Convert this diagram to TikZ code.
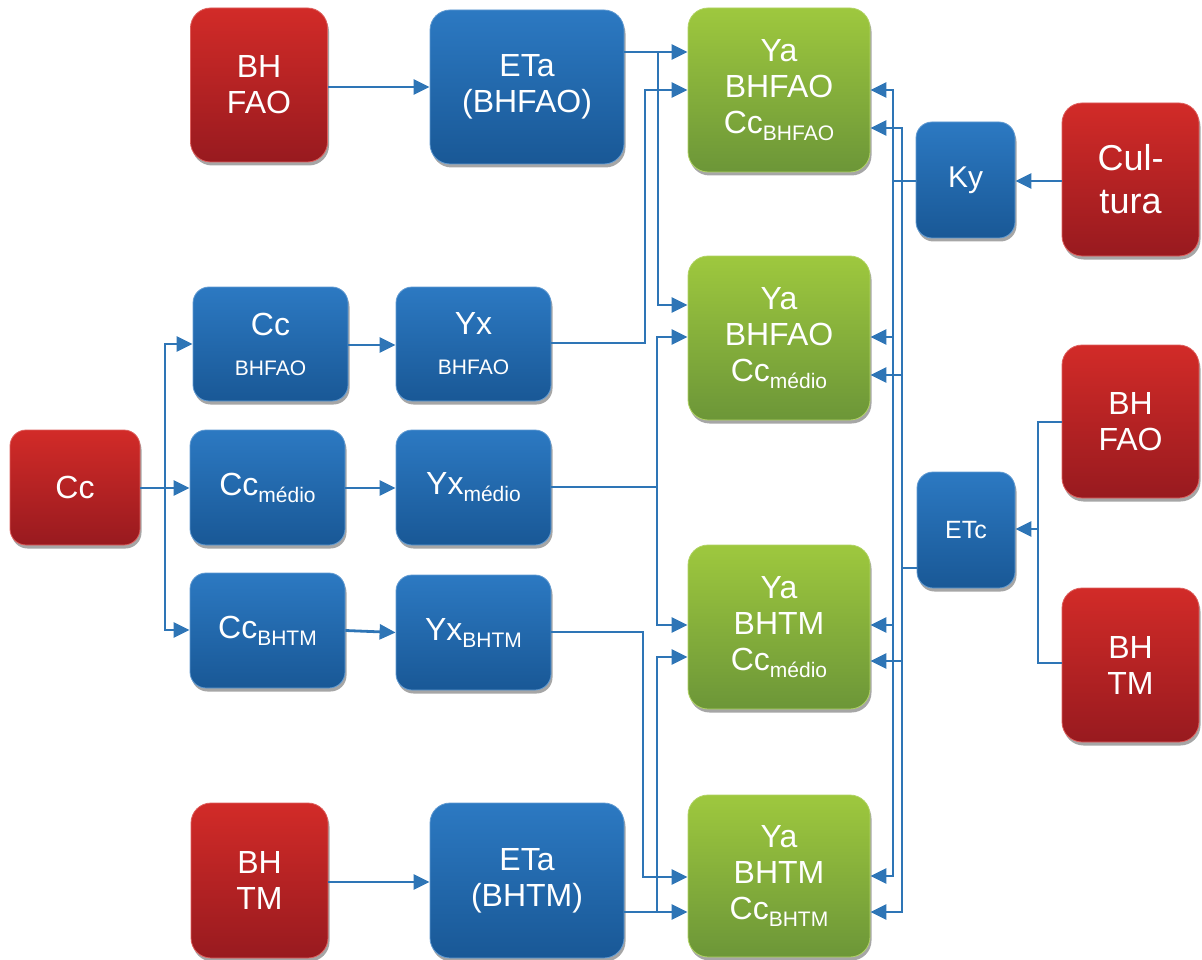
\documentclass[tikz,border=0pt]{standalone}
\usepackage{fontspec}
\setmainfont{Liberation Sans}
\usetikzlibrary{arrows.meta,shadows}

\definecolor{linecol}{RGB}{46,117,182}
\definecolor{redtop}{RGB}{210,43,40}
\definecolor{redbot}{RGB}{152,26,31}
\definecolor{bluetop}{RGB}{44,121,194}
\definecolor{bluebot}{RGB}{25,88,150}
\definecolor{greentop}{RGB}{158,200,62}
\definecolor{greenbot}{RGB}{108,150,56}

% lowered small text (subscript-like labels)
\newcommand{\lowtxt}[1]{\raisebox{-7pt}{\fontsize{21}{21}\selectfont #1}}

\tikzset{
  basebox/.style={rounded corners=20pt, inner sep=0pt, text=white, align=center,
    font=\fontsize{32}{36}\selectfont, line width=0.8pt,
    drop shadow={shadow xshift=1.5pt, shadow yshift=-3.5pt, fill=black, opacity=0.35}},
  redbox/.style={basebox, top color=redtop, bottom color=redbot, draw=redtop!75!white},
  bluebox/.style={basebox, top color=bluetop, bottom color=bluebot, draw=bluetop!75!white},
  greenbox/.style={basebox, top color=greentop, bottom color=greenbot, draw=greentop!80!white},
  smallbox/.style={rounded corners=16pt},
  conn/.style={draw=linecol, line width=2.8pt},
  arr/.style={conn, -{Triangle[length=16pt,width=15pt]}},
}

\begin{document}
\begin{tikzpicture}[x=1pt, y=-1pt]
\useasboundingbox (0,0) rectangle (1202,960);

% source boxes (red)
\node[redbox, minimum width=137pt, minimum height=154pt] (bhA) at (259,85) {BH\\FAO};
\node[redbox, minimum width=137pt, minimum height=155pt] (bhB) at (259.5,880.5) {BH\\TM};
\node[redbox, smallbox, minimum width=130pt, minimum height=115pt] (cc) at (75,487.5) {Cc};
\node[redbox, minimum width=137pt, minimum height=153pt, font=\fontsize{36}{43}\selectfont] (cult) at (1130.5,179.5) {Cul-\\tura};
\node[redbox, minimum width=137pt, minimum height=153pt] (bhR1) at (1130.5,421.5) {BH\\FAO};
\node[redbox, minimum width=137pt, minimum height=154pt] (bhR2) at (1130.5,665) {BH\\TM};

% intermediate boxes (blue)
\node[bluebox, minimum width=194pt, minimum height=154pt] (etaA) at (527,87) {ETa\\(BHFAO)};
\node[bluebox, minimum width=194pt, minimum height=155pt] (etaB) at (527,880.5) {ETa\\(BHTM)};
\node[bluebox, smallbox, minimum width=155pt, minimum height=114pt] (ccA) at (270.5,344)
  {Cc\\[4pt]{\fontsize{21}{25}\selectfont BHFAO}};
\node[bluebox, smallbox, minimum width=155pt, minimum height=114pt] (yxA) at (473.5,344)
  {Yx\\[4pt]{\fontsize{21}{25}\selectfont BHFAO}};
\node[bluebox, smallbox, minimum width=155pt, minimum height=115pt] (ccM) at (267.5,487.5) {Cc\lowtxt{médio}};
\node[bluebox, smallbox, minimum width=155pt, minimum height=115pt] (yxM) at (473.5,487.5) {Yx\lowtxt{médio}};
\node[bluebox, smallbox, minimum width=155pt, minimum height=115pt] (ccT) at (267.5,630.5) {Cc\lowtxt{BHTM}};
\node[bluebox, smallbox, minimum width=155pt, minimum height=115pt] (yxT) at (473.5,632.5) {Yx\lowtxt{BHTM}};
\node[bluebox, smallbox, minimum width=99pt, minimum height=116pt, font=\fontsize{30}{34}\selectfont] (ky) at (965.5,180) {Ky};
\node[bluebox, smallbox, minimum width=98pt, minimum height=116pt, font=\fontsize{25}{30}\selectfont] (etc) at (966,530) {ETc};

% result boxes (green)
\node[greenbox, minimum width=182pt, minimum height=164pt] (yaA) at (779,90) {Ya\\BHFAO\\Cc\lowtxt{BHFAO}};
\node[greenbox, minimum width=182pt, minimum height=164pt] (yaB) at (779,338) {Ya\\BHFAO\\Cc\lowtxt{médio}};
\node[greenbox, minimum width=182pt, minimum height=164pt] (yaC) at (779,627) {Ya\\BHTM\\Cc\lowtxt{médio}};
\node[greenbox, minimum width=182pt, minimum height=162pt] (yaD) at (779,876) {Ya\\BHTM\\Cc\lowtxt{BHTM}};

% junction points
\coordinate (jcc) at (165,488);
\coordinate (jm) at (657,487);
\coordinate (jt) at (657,912);
\coordinate (jky) at (893,181);
\coordinate (jetc) at (902,568);
\coordinate (jbh) at (1038,529);

% left branch: Cc to the three Cc variants
\draw[conn] (cc.east |- jcc) -- (jcc);
\draw[arr] (jcc) |- (ccA.west |- 0,344);
\draw[arr] (jcc) -- (ccM.west |- jcc);
\draw[arr] (jcc) |- (ccT.west |- 0,630);

% Cc variants to Yx
\draw[arr] (ccA.east |- 0,345) -- (yxA.west |- 0,345);
\draw[arr] (ccM.east |- 0,488) -- (yxM.west |- 0,488);
\draw[arr] (ccT.east) -- (yxT.west);

% water balance to ETa
\draw[arr] (bhA.east |- 0,87) -- (etaA.west |- 0,87);
\draw[arr] (bhB.east |- 0,882) -- (etaB.west |- 0,882);

% inputs of the Ya boxes
\draw[arr] (etaA.east |- 0,52) -- (yaA.west |- 0,52);
\draw[arr] (etaA.east |- 0,52) -| (658,305) -- (yaB.west |- 0,305);
\draw[arr] (yxA.east |- 0,343) -| (645,90) -- (yaA.west |- 0,90);
\draw[conn] (yxM.east |- jm) -- (jm);
\draw[arr] (jm) |- (yaB.west |- 0,337);
\draw[arr] (jm) |- (yaC.west |- 0,625);
\draw[arr] (yxT.east |- 0,632) -| (643,877) -- (yaD.west |- 0,877);
\draw[arr] (etaB.east |- jt) -- (yaD.west |- jt);
\draw[arr] (jt) |- (yaC.west |- 0,657);

% Ky to all Ya boxes
\draw[arr] (cult.west |- jky) -- (ky.east |- jky);
\draw[conn] (ky.west |- jky) -- (jky);
\draw[arr] (jky) |- (yaA.east |- 0,90);
\draw[arr] (jky) |- (yaB.east |- 0,337);
\draw[arr] (jky) |- (yaC.east |- 0,625);
\draw[arr] (jky) |- (yaD.east |- 0,876);

% ETc from both water balances, then to all Ya boxes
\draw[conn] (bhR1.west |- 0,422) -| (jbh);
\draw[conn] (bhR2.west |- 0,663) -| (jbh);
\draw[arr] (jbh) -- (etc.east |- jbh);
\draw[conn] (etc.west |- jetc) -- (jetc);
\draw[arr] (jetc) |- (yaA.east |- 0,128);
\draw[arr] (jetc) |- (yaB.east |- 0,375);
\draw[arr] (jetc) |- (yaC.east |- 0,661);
\draw[arr] (jetc) |- (yaD.east |- 0,912);
\end{tikzpicture}
\end{document}
